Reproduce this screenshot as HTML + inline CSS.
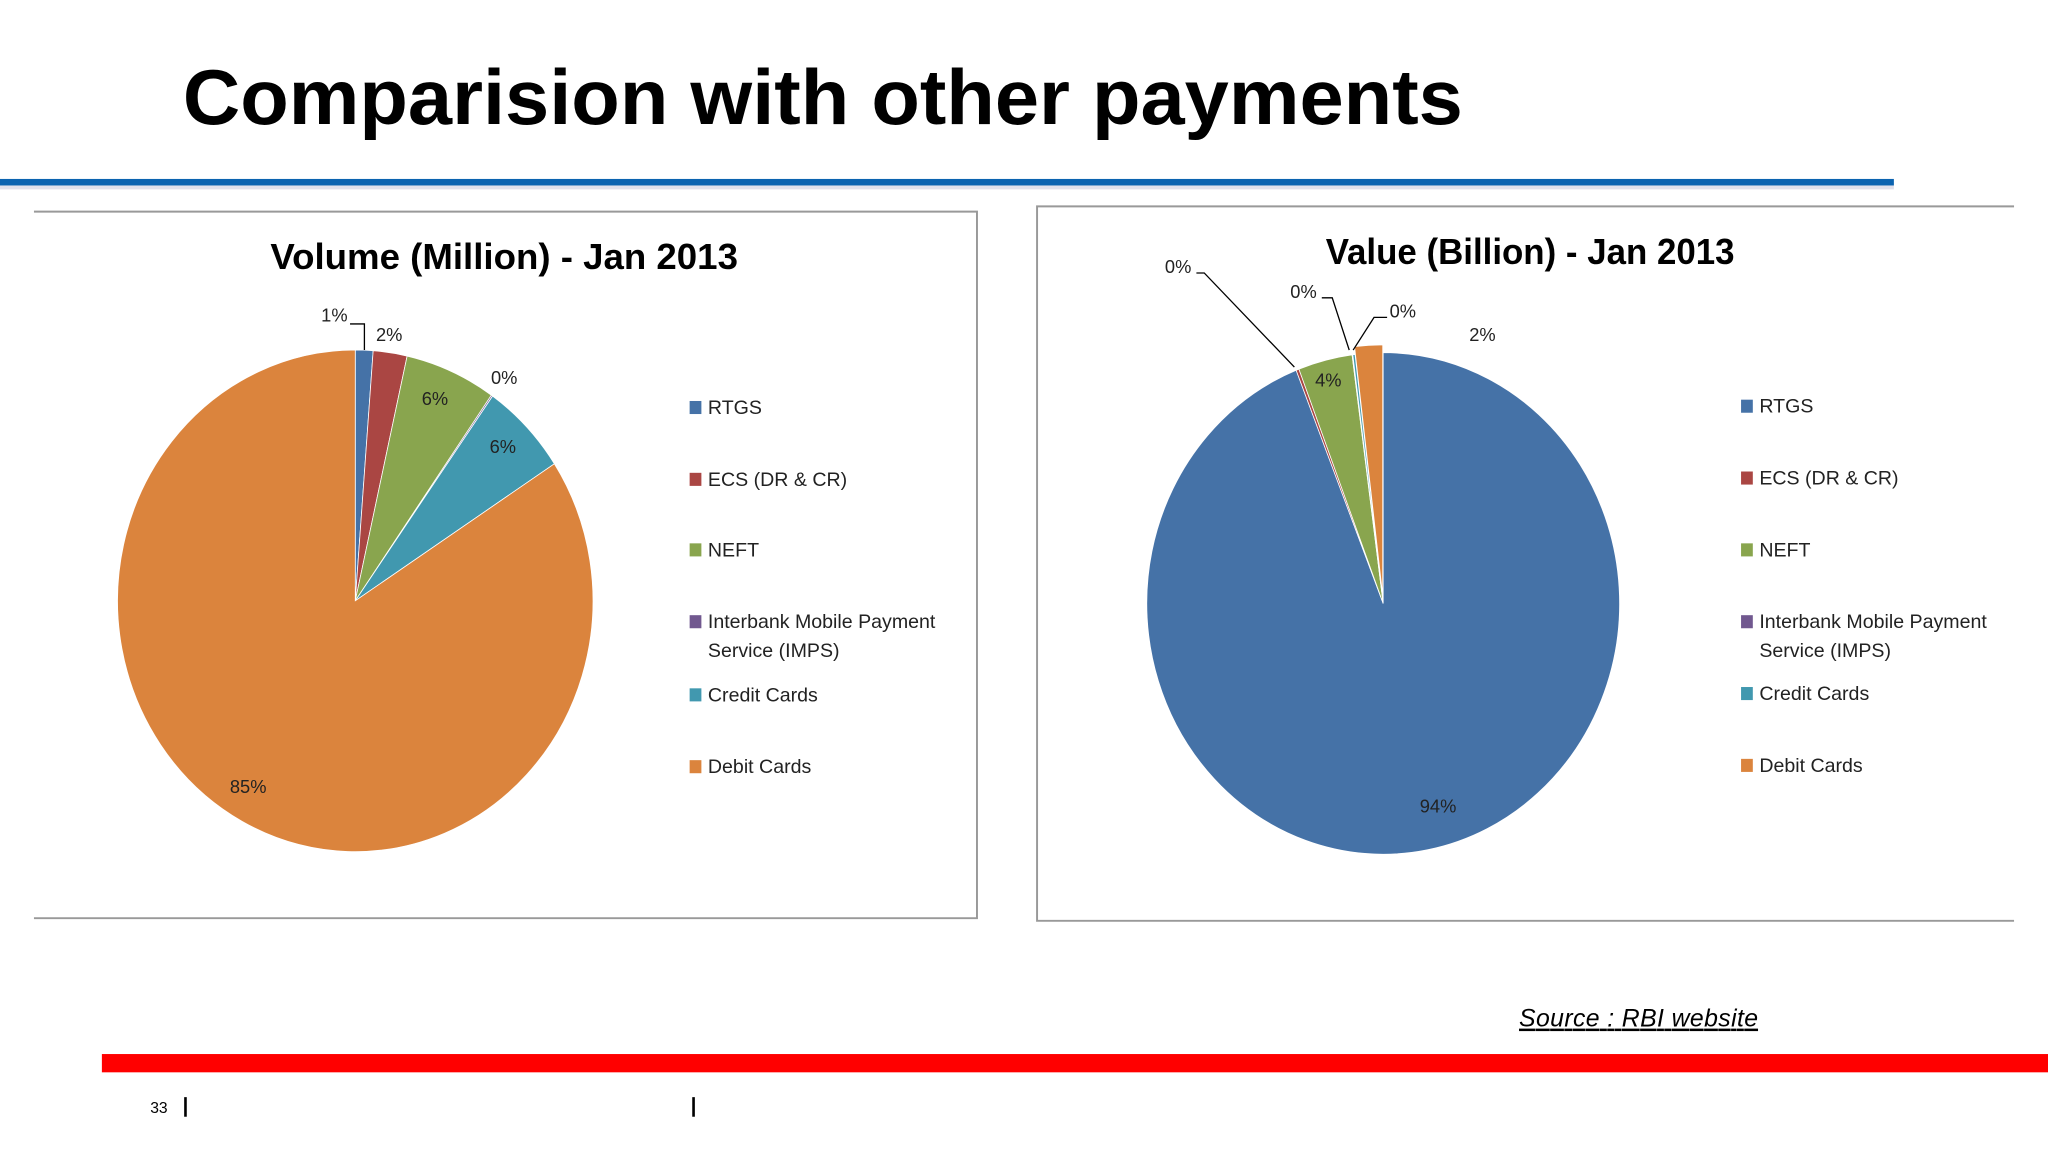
<!DOCTYPE html>
<html><head><meta charset="utf-8"><style>
html,body{margin:0;padding:0;background:#fff;width:2048px;height:1152px;overflow:hidden}
svg{display:block}
text{font-family:"Liberation Sans",sans-serif}
</style></head><body>
<svg id="s" width="2048" height="1152" viewBox="0 0 1568 882">
<text x="140" y="95" font-size="60" font-weight="bold" textLength="980" lengthAdjust="spacingAndGlyphs">Comparision with other payments</text>
<rect x="0" y="140" width="1450" height="5" fill="#ccd" opacity="0.6"/>
<rect x="0" y="137" width="1450" height="5" fill="#0b63b0"/>
<path d="M26 162H748V703H26" fill="none" stroke="#999" stroke-width="1.5"/>
<path d="M1542 158H794V705H1542" fill="none" stroke="#999" stroke-width="1.5"/>
<text x="207" y="206" font-size="28" font-weight="bold" textLength="358" lengthAdjust="spacingAndGlyphs">Volume (Million)  - Jan 2013</text>
<text x="1015" y="202" font-size="28" font-weight="bold" textLength="313" lengthAdjust="spacingAndGlyphs">Value (Billion) - Jan 2013</text>
<g id="p1"></g>
<g id="p2"></g>
<g id="lg1"></g>
<g id="lg2"></g>
<g font-size="14" fill="#222">
<text x="256" y="246" text-anchor="middle">1%</text>
<text x="298" y="261" text-anchor="middle">2%</text>
<text x="333" y="310" text-anchor="middle">6%</text>
<text x="386" y="294" text-anchor="middle">0%</text>
<text x="385" y="347" text-anchor="middle">6%</text>
<text x="190" y="607" text-anchor="middle">85%</text>
<text x="902" y="209" text-anchor="middle">0%</text>
<text x="998" y="228" text-anchor="middle">0%</text>
<text x="1074" y="243" text-anchor="middle">0%</text>
<text x="1135" y="261" text-anchor="middle">2%</text>
<text x="1017" y="296" text-anchor="middle">4%</text>
<text x="1101" y="622" text-anchor="middle">94%</text>
</g>
<g fill="none" stroke="#000" stroke-width="1">
<path d="M268 248H279V268"/>
<path d="M916 209H922L991 281"/>
<path d="M1012 228H1020L1033 268"/>
<path d="M1062 243H1052L1036 268"/>
</g>
<text x="1163" y="786" font-size="19" font-style="italic" text-decoration="underline" textLength="183">Source : RBI website</text>
<rect x="78" y="807" width="1490" height="14" fill="#ff0000"/>
<text x="115" y="852" font-size="12">33</text>
<rect x="141" y="840" width="2" height="15" fill="#000"/>
<rect x="530" y="840" width="2" height="15" fill="#000"/>
</svg>
<script>
const categories = ["RTGS","ECS (DR & CR)","NEFT","Interbank Mobile Payment|Service (IMPS)","Credit Cards","Debit Cards"];
const volumeValues = [1.2, 2.3, 6.2, 0.1, 6.0, 84.2];
const valueValues = [94.0, 0.2, 3.7, 0.05, 0.15, 1.9];
const colors = ["#4572a7","#aa4643","#89a54e","#71588f","#4198af","#db843d"];
const NS="http://www.w3.org/2000/svg";
function pie(gid, vals, cx, cy, rx, ry, explodeIdx){
  const g=document.getElementById(gid);
  const tot=vals.reduce((a,b)=>a+b,0);
  let a0=0;
  vals.forEach((v,i)=>{
    const a1=a0+v/tot*2*Math.PI;
    let ox=0, oy=0;
    if(i===explodeIdx){const m=(a0+a1)/2; ox=Math.sin(m)*6; oy=-Math.cos(m)*6;}
    const x0=cx+ox+rx*Math.sin(a0), y0=cy+oy-ry*Math.cos(a0);
    const x1=cx+ox+rx*Math.sin(a1), y1=cy+oy-ry*Math.cos(a1);
    const large=(a1-a0)>Math.PI?1:0;
    const p=document.createElementNS(NS,"path");
    p.setAttribute("d",`M${cx+ox} ${cy+oy}L${x0} ${y0}A${rx} ${ry} 0 ${large} 1 ${x1} ${y1}Z`);
    p.setAttribute("fill",colors[i]);
    p.setAttribute("stroke","#fff");
    p.setAttribute("stroke-width","0.6");
    
    
    g.appendChild(p);
    a0=a1;
  });
}
pie("p1", volumeValues, 272, 460, 182, 192, -1);
pie("p2", valueValues, 1059, 462, 181, 192, 5);
function legend(gid, x, ys){
  const g=document.getElementById(gid);
  categories.forEach((c,i)=>{
    const r=document.createElementNS(NS,"rect");
    r.setAttribute("x",x); r.setAttribute("y",ys[i]-5); r.setAttribute("width",9); r.setAttribute("height",10);
    r.setAttribute("fill",colors[i]);
    
    
    g.appendChild(r);
    c.split("|").forEach((line,j)=>{
      const t=document.createElementNS(NS,"text");
      t.setAttribute("x",x+14); t.setAttribute("y",ys[i]+5+j*22);
      t.setAttribute("font-size","15"); t.setAttribute("fill","#222");
      t.textContent=line;
      
      
      g.appendChild(t);
    });
  });
}
legend("lg1", 528, [312,367,421,476,532,587]);
legend("lg2", 1333, [311,366,421,476,531,586]);
</script>
</body></html>
